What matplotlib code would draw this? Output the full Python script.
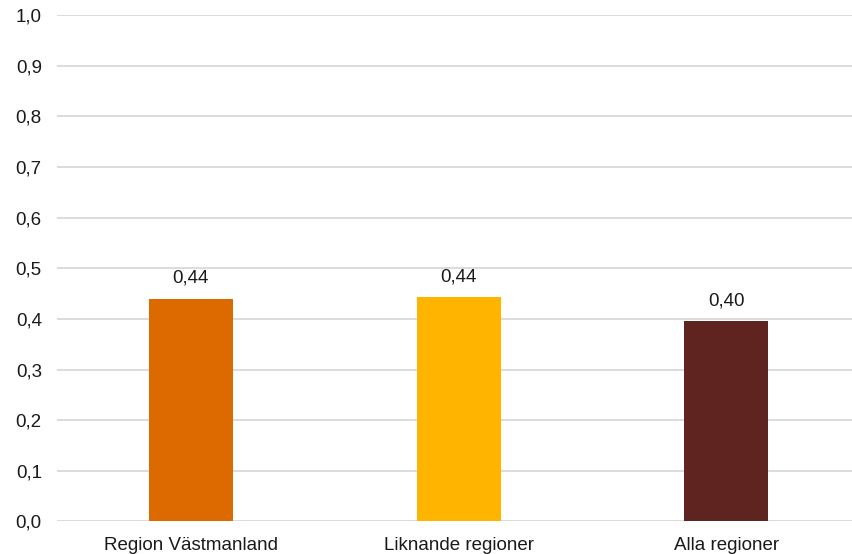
import numpy as np
import matplotlib.pyplot as plt
from matplotlib.ticker import FuncFormatter

plt.rcParams['font.family'] = ['Liberation Sans', 'DejaVu Sans']

# data
categories = ["Region Västmanland", "Liknande regioner", "Alla regioner"]
values = [0.44, 0.443, 0.395]
labels = ["0,44", "0,44", "0,40"]
colors = ["#DD6A00", "#FFB500", "#5F2320"]

fig = plt.figure(figsize=(8.52, 5.54), dpi=100)
ax = fig.add_axes([0.067, 0.0587, 0.933, 0.914])

x = np.arange(len(categories))
ax.bar(x, values, width=0.314, color=colors, zorder=3)
for xi, v, lab in zip(x, values, labels):
    ax.annotate(lab, (xi, v), xytext=(0, 8.5), textcoords='offset points',
                ha='center', va='bottom', fontsize=13.5, color='#1a1a1a')

ax.set_ylim(0, 1.0)
ax.set_xlim(-0.5, 2.47)
ax.set_yticks(np.arange(0, 1.01, 0.1))
ax.yaxis.set_major_formatter(FuncFormatter(lambda y, _: f"{y:.1f}".replace('.', ',')))
ax.set_xticks(x)
ax.set_xticklabels(categories)
ax.grid(axis='y', color='#D9D9D9', linewidth=1.3, zorder=0)
for s in ax.spines.values():
    s.set_visible(False)
ax.tick_params(axis='y', length=0, pad=11, labelsize=13.5, labelcolor='#1a1a1a')
ax.tick_params(axis='x', length=0, pad=11.5, labelsize=13.5, labelcolor='#1a1a1a')

fig.savefig("out.png", dpi=100)
